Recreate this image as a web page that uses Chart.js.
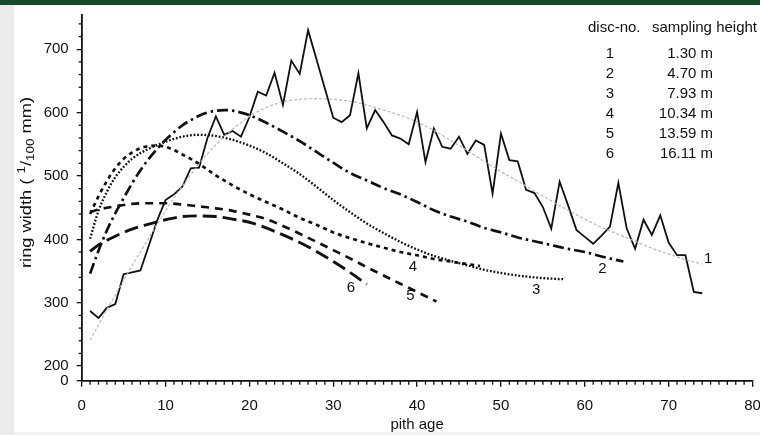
<!DOCTYPE html>
<html>
<head>
<meta charset="utf-8">
<script src="https://cdn.jsdelivr.net/npm/chart.js@4.4.1/dist/chart.umd.min.js"></script>
<style>
  html, body { margin: 0; padding: 0; background: #fff; }
  #wrap { position: relative; width: 760px; height: 435px; overflow: hidden; }
  #topbar { position: absolute; left: 0; top: 0; width: 760px; height: 5px; background: #134b2b; }
  #side { position: absolute; left: 0; top: 5px; width: 14px; height: 430px; background: #ebebeb; }
  #foot { position: absolute; left: 14px; top: 432px; width: 746px; height: 3px; background: #f2f2f2; }
  canvas { position: absolute; left: 0; top: 0; }
</style>
</head>
<body>
<div id="wrap">
  <div id="topbar"></div>
  <div id="side"></div>
  <div id="foot"></div>
  <canvas id="myChart" width="760" height="435" style="width:760px;height:435px"></canvas>
</div>
<script>
"use strict"

// measured ring widths, disc 1 (1.30 m)
const ages = [1,2,3,4,5,6,7,8,9,10,11,12,13,14,15,16,17,18,19,20,21,22,23,24,25,26,27,28,29,30,
  31,32,33,34,35,36,37,38,39,40,41,42,43,44,45,46,47,48,49,50,51,52,53,54,55,56,57,58,59,60,
  61,62,63,64,65,66,67,68,69,70,71,72,73,74]
const ringWidth = [287,276,292,298,345,348,351,390,430,462,471,483,512,513,560,594,565,571,562,593,
  633,627,663,612,682,661,730,684,638,592,585,596,662,575,604,585,564,559,550,601,
  522,575,546,543,562,535,556,549,472,567,525,523,478,473,451,417,491,454,415,404,
  393,406,420,489,417,385,431,407,438,395,375,375,317,315]

// fitted curves per disc
const fit1Age = [1,2,3,4,5,6,7,8,9,10,11,12,13,14,15,16,17,18,19,20,22,24,26,28,30,32,34,36,38,40,42,44,46,48,50,52,54,56,58,60,62,64,66,68,70,72,74]
const fit1 = [241,265,289,312,335,358,380,402,424,445,465,484,502,519,535,549,562,574,584,594,608,617,621,622,621,618,612,604,596,585,572,556,540,523,507,492,476,461,446,432,419,408,397,386,377,368,361]

const fit2Age = [1,2,3,4,5,6,7,8,9,10,11,12,13,14,15,16,17,18,19,20,22,24,26,28,30,32,34,36,38,40,42,44,46,48,50,52,54,56,58,60,62,64.6]
const fit2 = [346,382,414,441,465,488,509,527,543,557,569,580,588,595,600,603,604,603,600,596,584,570,555,538,521,505,493,481,471,459,446,436,428,418,411,403,397,391,385,380,373,365]

const fit3Age = [1,2,3,4,6,8,10,12,14,16,18,20,22,24,26,28,30,32,34,36,38,40,42,44,46,48,50,52,54,56,57.6]
const fit3 = [401,445,475,498,527,543,554,562,565,563,557,548,536,520,503,483,462,443,425,410,396,384,374,366,359,352,347,343,340,338,337]

const fit4Age = [1,2,3,4,5,6,7,8,9,10,11,12,13,14,15,16,17,18,19,20,22,24,26,28,30,32,34,36,38,40,42,44,46,47.5]
const fit4 = [440,468,492,512,527,537,544,547,548,546,541,534,527,519,510,501,493,485,478,471,459,447,434,423,411,402,394,387,380,375,369,365,361,358]

const fit5Age = [1,2,4,6,8,10,12,14,16,18,20,22,24,26,28,30,32,34,36,38,40,42.3]
const fit5 = [443,447,452,456,457,457,455,452,449,445,439,432,421,409,396,383,370,356,343,330,317,302]

const fit6Age = [1,2,4,6,8,10,12,14,16,18,20,22,24,26,28,30,32,34]
const fit6 = [381,391,405,416,424,431,436,437,436,432,427,418,407,395,381,365,348,329]

// curve numbers written next to the curve ends
const curveLabels = ['1','2','3','4','5','6']
const labelAge = [74.7,62.1,54.2,39.5,39.2,32.1]
const labelValue = [370,354,320,357,311,324]

// legend table
const discNo = ['1','2','3','4','5','6']
const samplingHeight = ['1.30 m','4.70 m','7.93 m','10.34 m','13.59 m','16.11 m']

// axes
const xTicks = [0,10,20,30,40,50,60,70,80]
const yTicks = [0,200,300,400,500,600,700]
const Y_BREAK = 177   // where the "0" of the broken axis sits

const FONT = '"Liberation Sans", Arial, Helvetica, sans-serif'
const INK = '#111'

function pts(xs, ys){
  return xs.map((v, i) => ({x: v, y: ys[i]}))
}

function line(ctx, x1, y1, x2, y2){
  ctx.beginPath()
  ctx.moveTo(x1, y1)
  ctx.lineTo(x2, y2)
  ctx.stroke()
}

const extras = {
  id: 'extras',
  afterDraw(chart){
    const {ctx} = chart
    const x = chart.scales.x
    const y = chart.scales.y
    ctx.save()
    ctx.strokeStyle = INK
    ctx.lineWidth = 1.3
    // minor ticks
    for(let v = 0; v <= 80; v++){
      if(v % 10 === 0) continue
      const px = x.getPixelForValue(v)
      line(ctx, px, y.bottom, px, y.bottom + 4)
    }
    for(let v = 220; v <= 740; v += 20){
      if(v % 100 === 0) continue
      const py = y.getPixelForValue(v)
      line(ctx, x.left - 3, py, x.left, py)
    }

    ctx.fillStyle = INK
    ctx.font = '15px ' + FONT
    ctx.textAlign = 'center'
    ctx.textBaseline = 'middle'
    for(let i = 0; i < curveLabels.length; i++){
      ctx.fillText(curveLabels[i], x.getPixelForValue(labelAge[i]), y.getPixelForValue(labelValue[i]))
    }

    // legend table
    ctx.textBaseline = 'alphabetic'
    ctx.textAlign = 'left'
    ctx.fillText('disc-no.', 588, 32)
    ctx.textAlign = 'right'
    ctx.fillText('sampling height', 757, 32)
    for(let i = 0; i < discNo.length; i++){
      const by = 58 + i * 20
      ctx.textAlign = 'center'
      ctx.fillText(discNo[i], 610, by)
      ctx.textAlign = 'right'
      ctx.fillText(samplingHeight[i], 713, by)
    }

    // y axis title with super / subscript, stretched to the original length
    const parts = [['ring width ( ', 15, 0], ['1', 11, -6], ['/', 15, 0], ['100', 11, 3], [' mm)', 15, 0]]
    let total = 0
    for(const p of parts){
      ctx.font = p[1] + 'px ' + FONT
      total += ctx.measureText(p[0]).width
    }
    ctx.translate(31, 268)
    ctx.rotate(-Math.PI / 2)
    ctx.scale(171 / total, 1)
    ctx.textAlign = 'left'
    let cx = 0
    for(const p of parts){
      ctx.font = p[1] + 'px ' + FONT
      ctx.fillText(p[0], cx, p[2])
      cx += ctx.measureText(p[0]).width
    }
    ctx.restore()
  }
}

const ctx = document.getElementById('myChart')

const fitStyle = {
  borderColor: INK,
  pointRadius: 0,
  fill: false,
  cubicInterpolationMode: 'monotone',
  borderCapStyle: 'butt'
}

let graph = new Chart(ctx, {
  type: 'line',
  data: {
    datasets: [
      {
        label: 'disc 1 fit',
        data: pts(fit1Age, fit1),
        ...fitStyle,
        borderColor: '#b8b8b8',
        borderWidth: 1.2,
        borderDash: [3, 2]
      },
      {
        label: 'disc 1',
        data: pts(ages, ringWidth),
        borderColor: INK,
        borderWidth: 1.8,
        pointRadius: 0,
        tension: 0
      },
      {
        label: 'disc 2',
        data: pts(fit2Age, fit2),
        ...fitStyle,
        borderWidth: 2.7,
        borderDash: [11, 4, 2.5, 4]
      },
      {
        label: 'disc 3',
        data: pts(fit3Age, fit3),
        ...fitStyle,
        borderWidth: 2.3,
        borderDash: [1.8, 1.8]
      },
      {
        label: 'disc 4',
        data: pts(fit4Age, fit4),
        ...fitStyle,
        borderWidth: 2.7,
        borderDash: [4, 4]
      },
      {
        label: 'disc 5',
        data: pts(fit5Age, fit5),
        ...fitStyle,
        borderWidth: 2.7,
        borderDash: [8, 6]
      },
      {
        label: 'disc 6',
        data: pts(fit6Age, fit6),
        ...fitStyle,
        borderWidth: 2.9,
        borderDash: [14, 6]
      }
    ]
  },
  options: {
    responsive: false,
    animation: false,
    events: [],
    layout: { padding: { left: 0, right: 7.5, top: 15, bottom: 0 } },
    plugins: {
      legend: { display: false },
      tooltip: { enabled: false }
    },
    scales: {
      x: {
        type: 'linear',
        min: 0,
        max: 80,
        afterBuildTicks: (s) => { s.ticks = xTicks.map(v => ({value: v})) },
        afterFit: (s) => {
          s.height = 54.3
          s.paddingLeft = 0
          s.paddingRight = 0
        },
        border: { color: INK, width: 1.8 },
        grid: { drawOnChartArea: false, tickLength: 6, color: INK, lineWidth: 1.3 },
        ticks: { color: INK, font: { size: 15, family: FONT }, padding: 10, maxRotation: 0 },
        title: { display: true, text: 'pith age', color: INK, font: { size: 15, family: FONT }, padding: { top: 0, bottom: 1 } }
      },
      y: {
        type: 'linear',
        min: Y_BREAK,
        max: 754,
        afterBuildTicks: (s) => { s.ticks = yTicks.map(v => ({value: v === 0 ? Y_BREAK : v})) },
        afterFit: (s) => {
          s.width = 81.7
          s.paddingTop = 0
          s.paddingBottom = 0
        },
        border: { color: INK, width: 1.8 },
        grid: { drawOnChartArea: false, tickLength: 5, color: INK, lineWidth: 1.3 },
        ticks: {
          color: INK,
          font: { size: 15, family: FONT },
          padding: 8,
          callback: (v) => v === Y_BREAK ? '0' : v
        }
      }
    }
  },
  plugins: [extras]
})
</script>
</body>
</html>
